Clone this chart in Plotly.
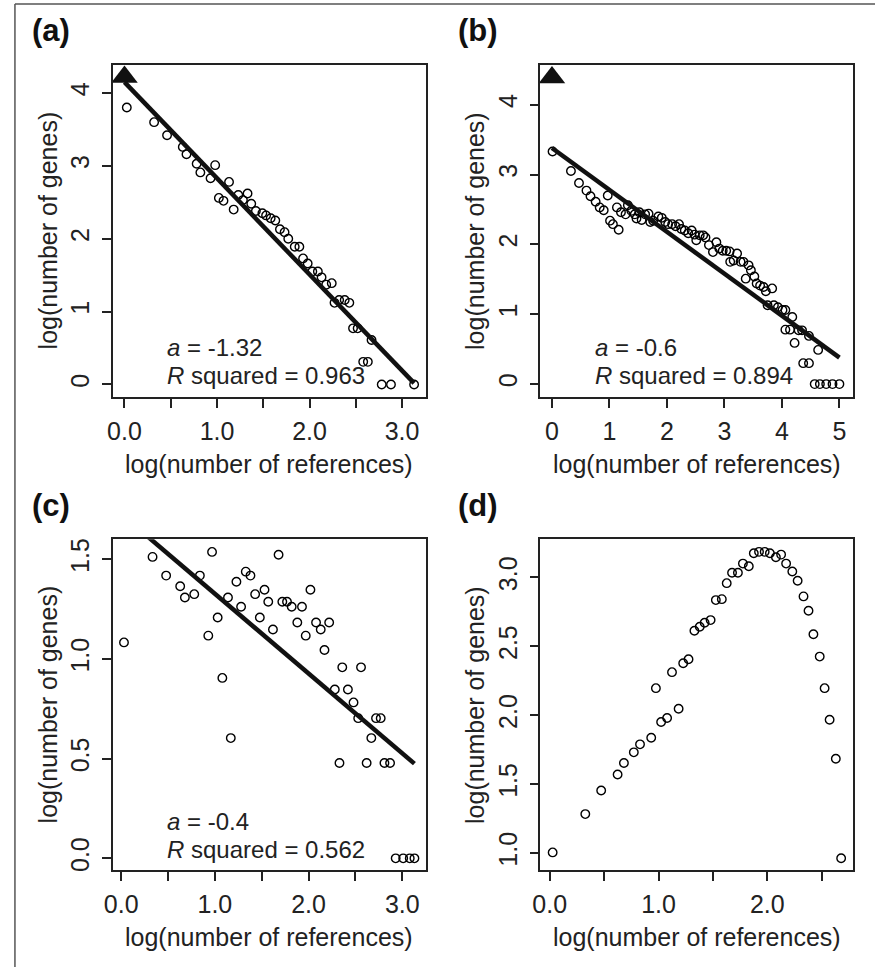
import plotly.graph_objects as go
import numpy as np

# ---------------- data ----------------
# Panel (a)
xa = [0.025, 0.32, 0.46, 0.63, 0.67, 0.78, 0.82, 0.93, 0.98, 1.02, 1.07, 1.13, 1.18, 1.23,
      1.28, 1.33, 1.37, 1.42, 1.49, 1.53, 1.58, 1.63, 1.68, 1.73, 1.77, 1.84, 1.89, 1.93,
      1.98, 2.03, 2.09, 2.13, 2.18, 2.24, 2.27, 2.32, 2.38, 2.43, 2.47, 2.52, 2.67, 2.58,
      2.63, 2.78, 2.88, 3.13]
ya = [3.80, 3.60, 3.42, 3.26, 3.16, 3.03, 2.91, 2.83, 3.01, 2.56, 2.52, 2.78, 2.40, 2.60,
      2.53, 2.62, 2.48, 2.38, 2.35, 2.32, 2.28, 2.25, 2.13, 2.09, 2.00, 1.89, 1.89, 1.73,
      1.66, 1.55, 1.55, 1.47, 1.37, 1.39, 1.12, 1.16, 1.16, 1.12, 0.77, 0.77, 0.61, 0.31,
      0.31, 0.0, 0.0, 0.0]
tri_a = (0.0, 4.22)
fit_a = {"intercept": 4.15, "slope": -1.32, "r2": 0.963}

# Panel (b)
xb = [0.01, 0.33, 0.47, 0.60, 0.67, 0.76, 0.83, 0.90, 0.97, 1.01, 1.06, 1.16, 1.13, 1.20,
      1.28, 1.32, 1.38, 1.44, 1.47, 1.52, 1.56, 1.62, 1.68, 1.71, 1.76, 1.85, 1.91, 1.97,
      2.02, 2.09, 2.15, 2.21, 2.25, 2.31, 2.37, 2.43, 2.48, 2.51, 2.57, 2.63, 2.67, 2.73,
      2.80, 2.86, 2.91, 2.97, 3.03, 3.09, 3.10, 3.16, 3.22, 3.28, 3.33, 3.37, 3.42, 3.46,
      3.52, 3.56, 3.62, 3.68, 3.72, 3.83, 3.75, 3.86, 3.93, 4.01, 4.06, 4.18, 4.06, 4.14,
      4.22, 4.29, 4.35, 4.47, 4.63, 4.37, 4.47, 4.57, 4.66, 4.77, 4.88, 5.0]
yb = [3.33, 3.05, 2.88, 2.77, 2.69, 2.61, 2.53, 2.49, 2.70, 2.34, 2.29, 2.21, 2.53, 2.46,
      2.43, 2.56, 2.48, 2.43, 2.37, 2.46, 2.35, 2.43, 2.44, 2.32, 2.34, 2.40, 2.38, 2.32,
      2.29, 2.29, 2.26, 2.29, 2.22, 2.20, 2.16, 2.20, 2.14, 2.06, 2.13, 2.13, 2.10, 1.99,
      1.89, 2.03, 1.94, 1.91, 1.91, 1.90, 1.75, 1.77, 1.87, 1.75, 1.75, 1.51, 1.70, 1.63,
      1.54, 1.44, 1.41, 1.39, 1.33, 1.37, 1.13, 1.13, 1.10, 1.06, 1.06, 0.96, 0.78, 0.78,
      0.59, 0.77, 0.77, 0.69, 0.49, 0.30, 0.30, 0.0, 0.0, 0.0, 0.0, 0.0]
tri_b = (0.0, 4.39)
fit_b = {"intercept": 3.38, "slope": -0.6, "r2": 0.894}

# Panel (c)
xc = [0.03, 0.335, 0.48, 0.63, 0.68, 0.78, 0.84, 0.93, 0.97, 1.03, 1.08, 1.14, 1.17, 1.23,
      1.28, 1.33, 1.38, 1.43, 1.48, 1.53, 1.57, 1.62, 1.68, 1.72, 1.77, 1.82, 1.88, 1.93,
      1.97, 2.02, 2.08, 2.13, 2.17, 2.22, 2.28, 2.33, 2.36, 2.42, 2.48, 2.53, 2.56, 2.62,
      2.67, 2.72, 2.77, 2.81, 2.87, 2.93, 3.01, 3.08, 3.13]
yc = [1.083, 1.512, 1.418, 1.365, 1.308, 1.325, 1.418, 1.117, 1.537, 1.208, 0.905, 1.308,
      0.603, 1.387, 1.262, 1.438, 1.418, 1.325, 1.208, 1.347, 1.287, 1.148, 1.523, 1.287,
      1.287, 1.262, 1.183, 1.262, 1.117, 1.347, 1.183, 1.148, 1.045, 1.183, 0.847, 0.478,
      0.958, 0.847, 0.782, 0.703, 0.958, 0.478, 0.603, 0.703, 0.703, 0.478, 0.478, 0.0,
      0.0, 0.0, 0.0]
fit_c = {"intercept": 1.727, "slope": -0.4, "r2": 0.562}

# Panel (d)
xd = [0.027, 0.327, 0.473, 0.624, 0.682, 0.773, 0.830, 0.933, 0.976, 1.024, 1.079, 1.124,
      1.185, 1.227, 1.276, 1.330, 1.379, 1.424, 1.479, 1.527, 1.582, 1.627, 1.676, 1.730,
      1.776, 1.830, 1.876, 1.924, 1.976, 2.024, 2.079, 2.127, 2.173, 2.230, 2.279, 2.333,
      2.379, 2.424, 2.482, 2.527, 2.573, 2.630, 2.679]
yd = [1.005, 1.283, 1.454, 1.570, 1.654, 1.731, 1.789, 1.837, 2.197, 1.951, 1.980, 2.313,
      2.047, 2.378, 2.407, 2.614, 2.643, 2.672, 2.691, 2.836, 2.843, 2.959, 3.034, 3.034,
      3.101, 3.082, 3.176, 3.186, 3.186, 3.176, 3.147, 3.166, 3.101, 3.043, 2.976, 2.863,
      2.759, 2.588, 2.426, 2.197, 1.968, 1.685, 0.962]

# tick labels
xticks_a = [0, 0.5, 1.0, 1.5, 2.0, 2.5, 3.0]
xticklabels_a = ["0.0", "", "1.0", "", "2.0", "", "3.0"]
yticks_a = [0, 1, 2, 3, 4]
yticklabels_a = ["0", "1", "2", "3", "4"]
xticks_b = [0, 1, 2, 3, 4, 5]
xticklabels_b = ["0", "1", "2", "3", "4", "5"]
yticks_b = [0, 1, 2, 3, 4]
yticklabels_b = ["0", "1", "2", "3", "4"]
xticks_c = [0, 0.5, 1.0, 1.5, 2.0, 2.5, 3.0]
xticklabels_c = ["0.0", "", "1.0", "", "2.0", "", "3.0"]
yticks_c = [0.0, 0.5, 1.0, 1.5]
yticklabels_c = ["0.0", "0.5", "1.0", "1.5"]
xticks_d = [0, 0.5, 1.0, 1.5, 2.0, 2.5]
xticklabels_d = ["0.0", "", "1.0", "", "2.0", ""]
yticks_d = [1.0, 1.5, 2.0, 2.5, 3.0]
yticklabels_d = ["1.0", "1.5", "2.0", "2.5", "3.0"]

panel_labels = ["(a)", "(b)", "(c)", "(d)"]
xtitle = "log(number of references)"
ytitle = "log(number of genes)"

# ---------------- figure ----------------
W, H = 875, 969
FONT = "Liberation Sans, Arial, Helvetica, sans-serif"
FS = 25
INK = "#222222"

def px(x):
    return x / W

def py(y):
    return 1 - y / H

fig = go.Figure()

panels = [
    dict(x=xa, y=ya, tri=tri_a, fit=fit_a, xs="x", ys="y"),
    dict(x=xb, y=yb, tri=tri_b, fit=fit_b, xs="x2", ys="y2"),
    dict(x=xc, y=yc, tri=None, fit=fit_c, xs="x3", ys="y3"),
    dict(x=xd, y=yd, tri=None, fit=None, xs="x4", ys="y4"),
]

for p in panels:
    fig.add_trace(go.Scatter(
        x=p["x"], y=p["y"], mode="markers", xaxis=p["xs"], yaxis=p["ys"],
        marker=dict(symbol="circle-open", size=8.5, color="black", line=dict(width=1.4)),
        showlegend=False, hoverinfo="skip"))
    if p["fit"] is not None:
        lx = np.array([0.0, max(p["x"])])
        ly = p["fit"]["intercept"] + p["fit"]["slope"] * lx
        fig.add_trace(go.Scatter(
            x=lx, y=ly, mode="lines", xaxis=p["xs"], yaxis=p["ys"],
            line=dict(color="#111111", width=4.5), showlegend=False, hoverinfo="skip"))
    if p["tri"] is not None:
        fig.add_trace(go.Scatter(
            x=[p["tri"][0]], y=[p["tri"][1]], mode="markers", xaxis=p["xs"], yaxis=p["ys"],
            marker=dict(symbol="triangle-up", size=23, color="#111111"),
            showlegend=False, hoverinfo="skip", cliponaxis=False))

# box geometry in pixels (left, right, top, bottom)
boxes = {
    "a": (105, 421, 64, 397),
    "b": (537, 853, 64, 397),
    "c": (105, 421, 540, 872),
    "d": (537, 853, 540, 872),
}

axis_common = dict(showgrid=False, zeroline=False, showline=True, mirror=True,
                   linecolor=INK, linewidth=1.5, ticks="outside", ticklen=9,
                   tickwidth=1.5, tickcolor=INK)

def xax(box, rng, tv, tt, anchor):
    l, r, t, b = box
    return dict(axis_common, domain=[px(l), px(r)], range=rng, tickvals=tv, ticktext=tt,
                anchor=anchor, tickfont=dict(family=FONT, size=FS, color=INK),
                ticklabelstandoff=2)

def yax(box, rng, tv, tt, anchor):
    l, r, t, b = box
    return dict(axis_common, domain=[py(b), py(t)], range=rng, tickvals=tv, ticktext=tt,
                anchor=anchor, tickangle=-90, ticklabelstandoff=3,
                tickfont=dict(family=FONT, size=FS, color=INK))

fig.update_layout(
    width=W, height=H, margin=dict(l=0, r=0, t=0, b=0),
    plot_bgcolor="white", paper_bgcolor="white",
    xaxis=xax(boxes["a"], [-0.125, 3.255], xticks_a, xticklabels_a, "y"),
    yaxis=yax(boxes["a"], [-0.169, 4.387], yticks_a, yticklabels_a, "x"),
    xaxis2=xax(boxes["b"], [-0.2, 5.24], xticks_b, xticklabels_b, "y2"),
    yaxis2=yax(boxes["b"], [-0.181, 4.571], yticks_b, yticklabels_b, "x2"),
    xaxis3=xax(boxes["c"], [-0.088, 3.25], xticks_c, xticklabels_c, "y3"),
    yaxis3=yax(boxes["c"], [-0.06, 1.6], yticks_c, yticklabels_c, "x3"),
    xaxis4=xax(boxes["d"], [-0.085, 2.79], xticks_d, xticklabels_d, "y4"),
    yaxis4=yax(boxes["d"], [0.875, 3.277], yticks_d, yticklabels_d, "x4"),
)

ann = []
for key, lab in zip(["a", "b", "c", "d"], panel_labels):
    l, r, t, b = boxes[key]
    ann.append(dict(text="<b>" + lab + "</b>", x=px(l - 63), y=py(t - 34), xref="paper", yref="paper",
                    xanchor="center", yanchor="middle", showarrow=False,
                    font=dict(family=FONT, size=31, color="#111111")))
    ann.append(dict(text=xtitle, x=px((l + r) / 2), y=py(b + 67), xref="paper", yref="paper",
                    xanchor="center", yanchor="middle", showarrow=False,
                    font=dict(family=FONT, size=FS, color=INK)))
    ann.append(dict(text=ytitle, x=px(l - 66), y=py((t + b) / 2), xref="paper", yref="paper",
                    xanchor="center", yanchor="middle", showarrow=False, textangle=-90,
                    font=dict(family=FONT, size=FS, color=INK)))

stats = [("a", fit_a), ("b", fit_b), ("c", fit_c)]
for key, f in stats:
    l, r, t, b = boxes[key]
    tx = l + 53
    ann.append(dict(text="<i>a</i> = " + ("%g" % f["slope"]), x=px(tx), y=py(b - 49),
                    xref="paper", yref="paper", xanchor="left", yanchor="middle", showarrow=False,
                    font=dict(family=FONT, size=24, color=INK)))
    ann.append(dict(text="<i>R</i> squared = " + ("%.3f" % f["r2"]), x=px(tx), y=py(b - 21),
                    xref="paper", yref="paper", xanchor="left", yanchor="middle", showarrow=False,
                    font=dict(family=FONT, size=24, color=INK)))

fig.update_layout(annotations=ann)

# outer frame (left and top edges)
fig.add_shape(type="line", xref="paper", yref="paper", x0=px(6), x1=px(6), y0=0, y1=py(3),
              line=dict(color="#555555", width=1.5), layer="above")
fig.add_shape(type="line", xref="paper", yref="paper", x0=px(6), x1=1, y0=py(3), y1=py(3),
              line=dict(color="#555555", width=1.5), layer="above")

fig.write_html("out.html", config={"displayModeBar": False},
               post_script="document.body.style.margin='0px';document.body.style.overflow='hidden';")
